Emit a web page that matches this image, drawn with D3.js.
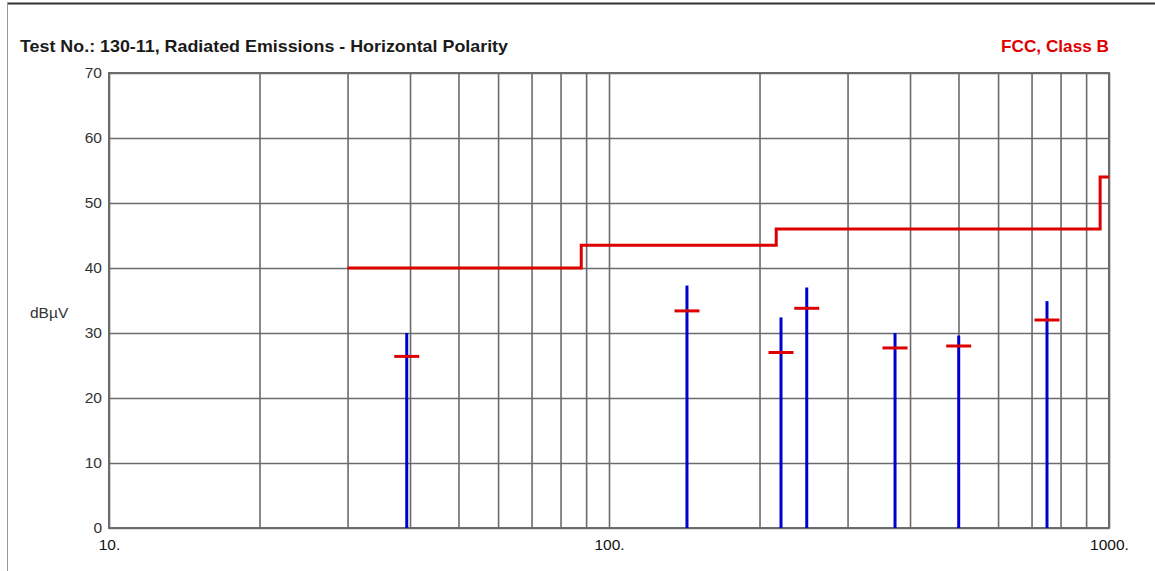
<!DOCTYPE html>
<html>
<head>
<meta charset="utf-8">
<script src="https://cdn.jsdelivr.net/npm/d3@7"></script>
<style>
  html, body { margin: 0; padding: 0; background: #fff; }
  svg { display: block; }
  text { font-family: "Liberation Sans", Arial, sans-serif; }
</style>
</head>
<body>
<svg id="chart" width="1155" height="571"></svg>
<script>
// Chart text
const titleText = "Test No.: 130-11, Radiated Emissions - Horizontal Polarity";
const limitName = "FCC, Class B";
const yUnit = "dBµV";

// Axis ticks
const yTicks = [0, 10, 20, 30, 40, 50, 60, 70];
const xLabelTicks = [10, 100, 1000];
const xLabelText = ["10.", "100.", "1000."];
const xGridTicks = [20, 30, 40, 50, 60, 70, 80, 90, 200, 300, 400, 500, 600, 700, 800, 900];

// FCC Class B limit (MHz, dBµV), drawn as a step line
const limitFreq = [30, 88, 216, 960, 1000];
const limitLevel = [40, 43.5, 46, 54, 54];

// Measured emissions: frequency (MHz), peak level and quasi-peak level (dBµV)
const emFreq = [39.4, 143.2, 220.8, 248.6, 373.3, 500.5, 751.6];
const emPeak = [30.0, 37.3, 32.4, 37.0, 30.0, 29.6, 34.9];
const emQP   = [26.4, 33.4, 27.0, 33.8, 27.7, 28.0, 32.0];

const svg = d3.select("#chart");
const W = 1155, H = 571;
const m = { left: 109, right: 1109, top: 73, bottom: 528 };

const x = d3.scaleLog().domain([10, 1000]).range([m.left, m.right]);
const y = d3.scaleLinear().domain([0, 70]).range([m.bottom, m.top]);

// outer frame (top and left edges)
svg.append("line").attr("x1", 7).attr("x2", W).attr("y1", 3.5).attr("y2", 3.5)
  .attr("stroke", "#333").attr("stroke-width", 2);
svg.append("line").attr("x1", 7.5).attr("x2", 7.5).attr("y1", 3).attr("y2", H)
  .attr("stroke", "#999").attr("stroke-width", 1);

// title + limit name
svg.append("text").attr("x", 20).attr("y", 52)
  .attr("font-size", 16.5).attr("font-weight", "bold").attr("fill", "#1a1a1a")
  .attr("textLength", 488).attr("lengthAdjust", "spacingAndGlyphs")
  .text(titleText);
svg.append("text").attr("x", m.right).attr("y", 52).attr("text-anchor", "end")
  .attr("font-size", 16.5).attr("font-weight", "bold").attr("fill", "#e00000")
  .attr("textLength", 108).attr("lengthAdjust", "spacingAndGlyphs")
  .text(limitName);

const gridColor = "#6b6b6b";
const tickFont = 15.5;

// horizontal grid (from y scale)
const gY = svg.append("g")
  .attr("transform", `translate(${m.left},0)`)
  .call(d3.axisLeft(y).tickValues(yTicks).tickSize(-(m.right - m.left)).tickPadding(7)
    .tickFormat(d3.format("d")));
gY.select(".domain").remove();
gY.selectAll(".tick line").attr("stroke", gridColor).attr("stroke-width", 1.6);
gY.selectAll(".tick text").attr("font-size", tickFont).attr("fill", "#333")
  .attr("font-family", "Liberation Sans, Arial, sans-serif");

// vertical grid (from x scale)
const gX = svg.append("g")
  .attr("transform", `translate(0,${m.bottom})`)
  .call(d3.axisBottom(x).tickValues(xGridTicks.concat(xLabelTicks))
    .tickSize(-(m.bottom - m.top))
    .tickFormat(d => {
      const i = xLabelTicks.indexOf(d);
      return i >= 0 ? xLabelText[i] : "";
    })
    .tickPadding(11));
gX.select(".domain").remove();
gX.selectAll(".tick line").attr("stroke", gridColor).attr("stroke-width", 1.6);
gX.selectAll(".tick text").attr("font-size", tickFont).attr("fill", "#111")
  .attr("font-family", "Liberation Sans, Arial, sans-serif");

// plot frame
svg.append("rect")
  .attr("x", m.left).attr("y", m.top)
  .attr("width", m.right - m.left).attr("height", m.bottom - m.top)
  .attr("fill", "none").attr("stroke", gridColor).attr("stroke-width", 2);

// unit label
svg.append("text").attr("x", 30).attr("y", 318)
  .attr("font-size", tickFont).attr("fill", "#333").text(yUnit);

// limit step line
const limitPts = limitFreq.map((f, i) => [f, limitLevel[i]]);
svg.append("path")
  .datum(limitPts)
  .attr("fill", "none").attr("stroke", "#dd0000").attr("stroke-width", 3)
  .attr("d", d3.line().x(d => x(d[0])).y(d => y(d[1])).curve(d3.curveStepAfter));

// emission spikes (peak)
svg.append("g").selectAll("line")
  .data(emFreq.map((f, i) => ({ f, v: emPeak[i] })))
  .join("line")
  .attr("x1", d => x(d.f)).attr("x2", d => x(d.f))
  .attr("y1", y(0)).attr("y2", d => y(d.v))
  .attr("stroke", "#0000cc").attr("stroke-width", 3);

// quasi-peak markers
svg.append("g").selectAll("line")
  .data(emFreq.map((f, i) => ({ f, v: emQP[i] })))
  .join("line")
  .attr("x1", d => x(d.f) - 12.5).attr("x2", d => x(d.f) + 12.5)
  .attr("y1", d => y(d.v)).attr("y2", d => y(d.v))
  .attr("stroke", "#dd0000").attr("stroke-width", 3);
</script>
</body>
</html>
